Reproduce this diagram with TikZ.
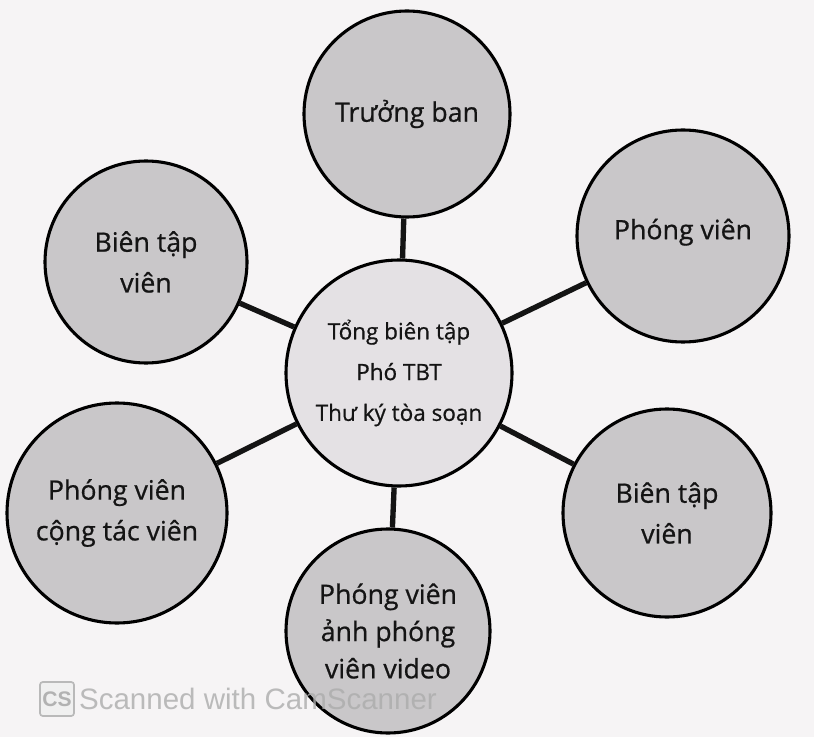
\documentclass[tikz,border=0pt]{standalone}
\usepackage{fontspec}
\setmainfont[FakeBold=0.7]{Open Sans}
\newfontfamily\markfont{Liberation Sans}
\usetikzlibrary{positioning}
\definecolor{pagebg}{HTML}{F6F4F5}
\definecolor{bubblegray}{HTML}{C9C7C9}
\definecolor{hubgray}{HTML}{E4E1E4}
\definecolor{inkblack}{HTML}{141414}

\begin{document}
\begin{tikzpicture}[
        x=0.25mm, y=-0.25mm,
        every node/.style={align=center, text=inkblack},
        bubble/.style={circle, draw=black, line width=2.2pt, fill=bubblegray, inner sep=0pt, font=\fontsize{19}{29}\selectfont},
        hub/.style={bubble, fill=hubgray, font=\fontsize{16}{29}\selectfont},
        spoke/.style={line width=3.8pt, draw=inkblack}
    ]
    % Page
    \fill[pagebg] (0,0) rectangle (814,737);
    % Nodes
    \node[hub, minimum size=56.5mm] (tongbt) at (399,373) {Tổng biên tập\\Phó TBT\\Thư ký tòa soạn};
    \node[bubble, minimum size=51.5mm] (truongban) at (407,114) {Trưởng ban};
    \node[bubble, minimum size=53mm] (phongvien) at (683,236) {\raisebox{3.5mm}{Phóng viên}};
    \node[bubble, minimum size=50.5mm] (btvleft) at (146,262) {Biên tập\\viên};
    \node[bubble, minimum size=55mm] (pvctv) at (117,513) {Phóng viên\\cộng tác viên};
    \node[bubble, minimum size=52mm] (btvright) at (667,513) {Biên tập\\viên};
    \node[bubble, minimum size=51mm, font=\fontsize{19}{26.5}\selectfont] (pvanh) at (388,631) {Phóng viên\\ảnh phóng\\viên video};
    % Connectors
    \draw[spoke] (tongbt) -- (truongban);
    \draw[spoke] (tongbt) -- (phongvien);
    \draw[spoke] (tongbt) -- (btvleft);
    \draw[spoke] (tongbt) -- (pvctv);
    \draw[spoke] (tongbt) -- (btvright);
    \draw[spoke] (tongbt) -- (pvanh);
    % Watermark
    \node[rounded corners=2pt, draw=gray!55, fill=gray!12, line width=1.2pt, minimum size=8.5mm, inner sep=0pt,
          font=\markfont\bfseries\fontsize{15}{15}\selectfont, text=gray!60] (camlogo) at (57,699) {CS};
    \node[right=1mm of camlogo, inner sep=0pt, font=\markfont\fontsize{21}{21}\selectfont, text=gray!65, text opacity=0.8] (camtext) {Scanned with CamScanner};
\end{tikzpicture}
\end{document}
